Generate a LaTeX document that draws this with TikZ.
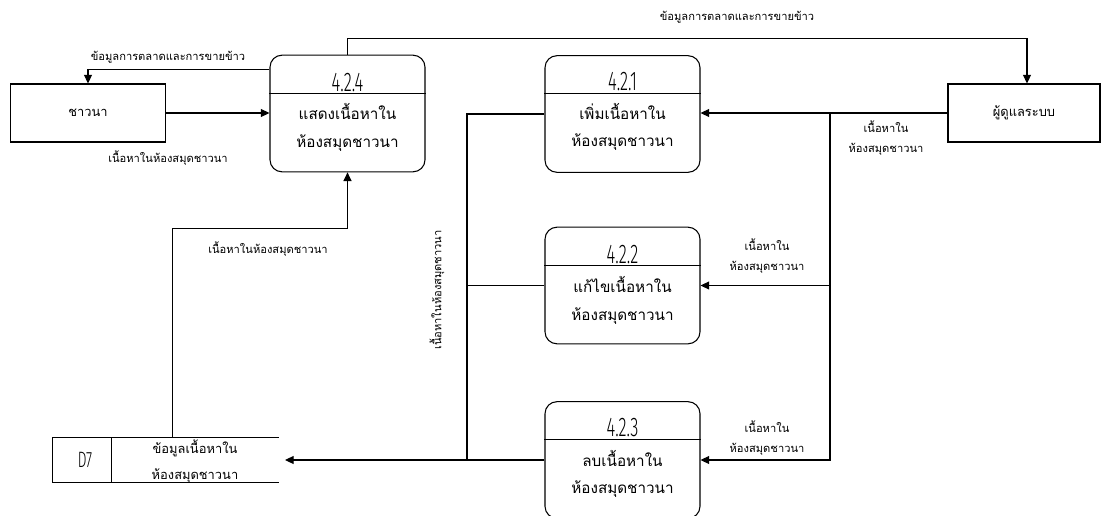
\documentclass[tikz,border=0pt]{standalone}
\usepackage{fontspec}
\newfontfamily\thai[Script=Thai]{Loma}
\newfontfamily\numfont[FakeStretch=0.62]{Fira Sans Light}
\usetikzlibrary{
    arrows.meta,
    calc,
    positioning
}

\tikzset{
    proc/.style={draw, rounded corners=3.6mm, minimum width=46.5mm, minimum height=35mm},
    ext/.style={draw, minimum width=46.5mm, minimum height=17.4mm, font=\thai\fontsize{11}{14}\selectfont},
    flow/.style={-{Triangle[length=2.6mm,width=2.4mm]}},
    lbl/.style={font=\thai\fontsize{9.5}{17}\selectfont, align=center},
    ptext/.style={font=\thai\fontsize{13}{23.5}\selectfont, align=center},
    pnum/.style={font=\numfont\fontsize{23}{23}\selectfont, anchor=south, inner sep=1.5pt}
}

\begin{document}
\begin{tikzpicture}[x=0.3mm, y=-0.3mm, line width=0.9pt]
    \useasboundingbox (0, 0) rectangle (1103, 516);

    % external entities
    \node[ext] (farmer) at (88, 113) {ชาวนา};
    \node[ext, minimum width=45.6mm] (admin) at (1024, 113) {ผู้ดูแลระบบ};

    % processes
    \node[proc] (p424) at (347.5, 113.5) {};
    \node[proc] (p421) at (622.5, 114) {};
    \node[proc] (p422) at (622.5, 285.5) {};
    \node[proc] (p423) at (622.5, 460) {};
    \draw ($(p424.north west)+(0, 39)$) -- ($(p424.north east)+(0, 39)$);
    \draw ($(p421.north west)+(0, 38)$) -- ($(p421.north east)+(0, 38)$);
    \draw ($(p422.north west)+(0, 39)$) -- ($(p422.north east)+(0, 39)$);
    \draw ($(p423.north west)+(0, 38)$) -- ($(p423.north east)+(0, 38)$);
    \node[pnum] (n424) at ($(p424.north)+(0, 39)$) {4.2.4};
    \node[pnum] (n421) at ($(p421.north)+(0, 38)$) {4.2.1};
    \node[pnum] (n422) at ($(p422.north)+(0, 39)$) {4.2.2};
    \node[pnum] (n423) at ($(p423.north)+(0, 38)$) {4.2.3};
    \node[ptext] (t424) at ($(p424.north)+(0, 73)$) {แสดงเนื้อหาใน\\ห้องสมุดชาวนา};
    \node[ptext] (t421) at ($(p421.north)+(0, 72)$) {เพิ่มเนื้อหาใน\\ห้องสมุดชาวนา};
    \node[ptext] (t422) at ($(p422.north)+(0, 74)$) {แก้ไขเนื้อหาใน\\ห้องสมุดชาวนา};
    \node[ptext] (t423) at ($(p423.north)+(0, 73)$) {ลบเนื้อหาใน\\ห้องสมุดชาวนา};

    % data store
    \node[minimum width=67.5mm, minimum height=13.2mm] (d7) at (165.5, 460) {};
    \draw (d7.north east) -- (d7.north west) -- (d7.south west) -- (d7.south east);
    \draw ($(d7.north west)+(59, 0)$) -- ($(d7.south west)+(59, 0)$);
    \node[font=\numfont\fontsize{19}{19}\selectfont] (d7id) at (85, 460) {D7};
    \node[font=\thai\fontsize{11}{22}\selectfont, align=center] (d7name) at (195, 461) {ข้อมูลเนื้อหาใน\\ห้องสมุดชาวนา};

    % flows
    \coordinate (br) at (830, 113);
    \coordinate (bus) at (467, 460);
    \coordinate (d7in) at (285, 460);

    \draw[flow] (farmer.east) -- (farmer.east -| p424.west);
    \draw[flow] ($(p424.north west)+(0, 15)$) -| (farmer.north);
    \draw[flow] (p424.north) -- ++(0, -16) -| ($(admin.north)+(3, 0)$);
    \draw[flow] (admin.west) -- (admin.west -| p421.east);
    \draw[flow] (br) |- (p422.east);
    \draw[flow] (br) |- (p423.east);
    \draw (p421.west) -| (bus);
    \draw (p422.west) -- (p422.west -| bus);
    \draw[flow] (p423.west) -- (d7in);
    \draw[flow] ($(d7.north west)+(120, 0)$) |- ($(p424.south)+(0, 56)$) -- (p424.south);

    % flow labels
    \node[lbl] (l1) at (168, 57) {ข้อมูลการตลาดและการขายข้าว};
    \node[lbl] (l2) at (168, 158) {เนื้อหาในห้องสมุดชาวนา};
    \node[lbl] (l3) at (737, 17) {ข้อมูลการตลาดและการขายข้าว};
    \node[lbl] (l4) at (886, 138) {เนื้อหาใน\\ห้องสมุดชาวนา};
    \node[lbl] (l5) at (767, 256) {เนื้อหาใน\\ห้องสมุดชาวนา};
    \node[lbl] (l6) at (767, 438) {เนื้อหาใน\\ห้องสมุดชาวนา};
    \node[lbl] (l7) at (268, 249) {เนื้อหาในห้องสมุดชาวนา};
    \node[lbl, rotate=90] (l8) at (437, 290) {เนื้อหาในห้องสมุดชาวนา};
\end{tikzpicture}
\end{document}
